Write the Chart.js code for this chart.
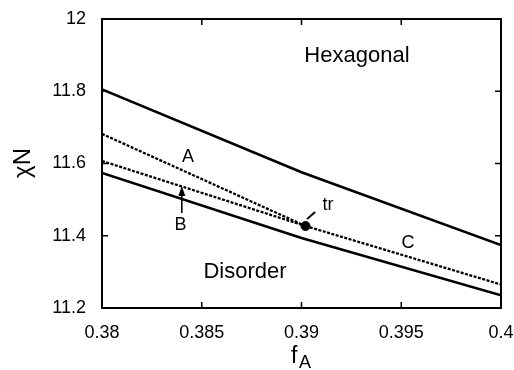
<!DOCTYPE html>
<html>
<head>
<meta charset="utf-8">
<script src="https://cdn.jsdelivr.net/npm/chart.js@4/dist/chart.umd.min.js"></script>
<style>
  body { margin: 0; background: #fff; }
  #wrap { width: 514px; height: 370px; }
</style>
</head>
<body>
<div id="wrap"><canvas id="chart" width="514" height="370"></canvas></div>
<script>
// Phase boundaries, chi*N vs f_A
var xTicks = [0.38, 0.385, 0.39, 0.395, 0.4];
var xTickLabels = ['0.38', '0.385', '0.39', '0.395', '0.4'];
var yTicks = [11.2, 11.4, 11.6, 11.8, 12];
var yTickLabels = ['11.2', '11.4', '11.6', '11.8', '12'];

var fUpper = [0.38, 0.39, 0.4];
var chiUpper = [11.805, 11.576, 11.374];
var fLower = [0.38, 0.39, 0.4];
var chiLower = [11.574, 11.394, 11.235];

var triple = [0.3902, 11.427];
var fA = [0.38, 0.3902];
var chiA = [11.682, 11.427];
var fB = [0.38, 0.3902];
var chiB = [11.607, 11.427];
var fC = [0.3902, 0.4];
var chiC = [11.427, 11.265];

// arrow pointing at line B, and short pointer to the triple point
var arrowB = [[0.384, 11.463], [0.384, 11.538]];
var trPointer = [[0.39028, 11.446], [0.39068, 11.466]];

// text labels: [text, f, chiN, font size]
var labels = [
    ['Hexagonal', 0.39278, 11.898, 22],
    ['Disorder', 0.38717, 11.300, 22],
    ['A', 0.38431, 11.619, 18],
    ['B', 0.38393, 11.431, 18],
    ['C', 0.39534, 11.381, 18],
    ['tr', 0.39133, 11.485, 18]
];

function pts(xs, ys) {
    return xs.map(function (x, i) { return { x: x, y: ys[i] }; });
}

function lineSet(data, width, dash) {
    return {
        data: data,
        showLine: true,
        borderColor: '#000',
        borderWidth: width,
        borderDash: dash || [],
        pointRadius: 0,
        fill: false,
        tension: 0
    };
}

var font = 'Arial, "Liberation Sans", sans-serif';

var framePlugin = {
    id: 'frame',
    afterDatasetsDraw: function (chart) {
        var ctx = chart.ctx;
        var a = chart.chartArea;
        var xs = chart.scales.x, ys = chart.scales.y;
        ctx.save();
        ctx.strokeStyle = '#000';
        ctx.lineWidth = 2;
        ctx.strokeRect(a.left, a.top, a.right - a.left, a.bottom - a.top);
        // inward ticks on all four sides
        ctx.lineWidth = 1.5;
        ctx.beginPath();
        xTicks.forEach(function (v) {
            var p = xs.getPixelForValue(v);
            ctx.moveTo(p, a.bottom); ctx.lineTo(p, a.bottom - 6);
            ctx.moveTo(p, a.top); ctx.lineTo(p, a.top + 6);
        });
        yTicks.forEach(function (v) {
            var p = ys.getPixelForValue(v);
            ctx.moveTo(a.left, p); ctx.lineTo(a.left + 6, p);
            ctx.moveTo(a.right, p); ctx.lineTo(a.right - 6, p);
        });
        ctx.stroke();

        // arrow to B
        var x0 = xs.getPixelForValue(arrowB[0][0]), y0 = ys.getPixelForValue(arrowB[0][1]);
        var x1 = xs.getPixelForValue(arrowB[1][0]), y1 = ys.getPixelForValue(arrowB[1][1]);
        ctx.lineWidth = 1.6;
        ctx.beginPath();
        ctx.moveTo(x0, y0); ctx.lineTo(x1, y1 + 6);
        ctx.stroke();
        ctx.fillStyle = '#000';
        ctx.beginPath();
        ctx.moveTo(x1, y1); ctx.lineTo(x1 - 3.5, y1 + 10); ctx.lineTo(x1 + 3.5, y1 + 10);
        ctx.closePath();
        ctx.fill();

        // pointer to triple point
        ctx.lineWidth = 2;
        ctx.beginPath();
        ctx.moveTo(xs.getPixelForValue(trPointer[0][0]), ys.getPixelForValue(trPointer[0][1]));
        ctx.lineTo(xs.getPixelForValue(trPointer[1][0]), ys.getPixelForValue(trPointer[1][1]));
        ctx.stroke();

        // region and line labels
        ctx.textAlign = 'center';
        ctx.textBaseline = 'middle';
        labels.forEach(function (l) {
            ctx.font = l[3] + 'px ' + font;
            ctx.fillText(l[0], xs.getPixelForValue(l[1]), ys.getPixelForValue(l[2]));
        });

        // axis titles
        ctx.save();
        ctx.translate(23, 163);
        ctx.rotate(-Math.PI / 2);
        ctx.font = '24px ' + font;
        ctx.fillText('\u03C7N', 0, 0);
        ctx.restore();

        ctx.textAlign = 'left';
        ctx.textBaseline = 'alphabetic';
        ctx.font = '23px ' + font;
        ctx.fillText('f', 291, 363);
        ctx.font = '18px ' + font;
        ctx.fillText('A', 299, 368);
        ctx.restore();
    }
};

new Chart(document.getElementById('chart'), {
    type: 'scatter',
    data: {
        datasets: [
            lineSet(pts(fUpper, chiUpper), 2.6),
            lineSet(pts(fLower, chiLower), 2.6),
            lineSet(pts(fA, chiA), 2.3, [3, 1.5]),
            lineSet(pts(fB, chiB), 2.3, [3, 1.5]),
            lineSet(pts(fC, chiC), 2.3, [3, 1.5]),
            {
                data: [{ x: triple[0], y: triple[1] }],
                pointRadius: 4.5,
                pointBackgroundColor: '#000',
                pointBorderColor: '#000',
                showLine: false
            }
        ]
    },
    options: {
        responsive: false,
        devicePixelRatio: 1,
        animation: false,
        layout: { padding: { top: 19, right: 13, left: 0, bottom: 0 } },
        plugins: { legend: { display: false }, tooltip: { enabled: false } },
        scales: {
            x: {
                type: 'linear',
                min: 0.38,
                max: 0.4,
                afterBuildTicks: function (s) { s.ticks = xTicks.map(function (v) { return { value: v }; }); },
                afterFit: function (s) { s.height = 62; s.paddingLeft = 0; s.paddingRight = 0; },
                grid: { display: false },
                border: { display: false },
                ticks: {
                    color: '#000',
                    padding: 6,
                    maxRotation: 0,
                    autoSkip: false,
                    font: { family: font, size: 18 },
                    callback: function (v, i) { return xTickLabels[i]; }
                }
            },
            y: {
                type: 'linear',
                min: 11.2,
                max: 12,
                afterBuildTicks: function (s) { s.ticks = yTicks.map(function (v) { return { value: v }; }); },
                afterFit: function (s) { s.width = 102; s.paddingTop = 0; s.paddingBottom = 0; },
                grid: { display: false },
                border: { display: false },
                ticks: {
                    color: '#000',
                    padding: 8,
                    autoSkip: false,
                    font: { family: font, size: 18 },
                    callback: function (v, i) { return yTickLabels[i]; }
                }
            }
        }
    },
    plugins: [framePlugin]
});
</script>
</body>
</html>
